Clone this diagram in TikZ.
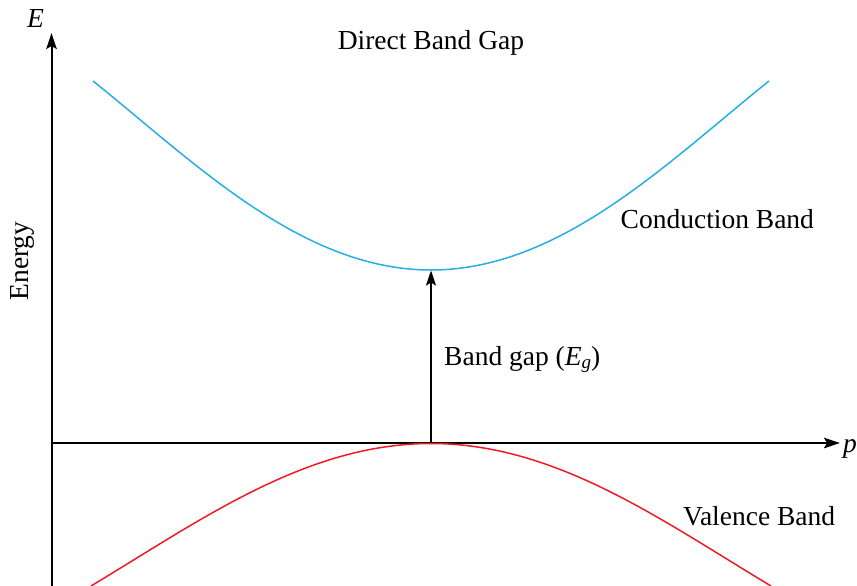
\documentclass[tikz,border=0pt]{standalone}
\usepackage{fontspec}
\setmainfont{Liberation Serif}
\usetikzlibrary{arrows.meta}
\definecolor{cband}{RGB}{39,174,225}
\definecolor{vband}{RGB}{237,28,36}
\begin{document}
\begin{tikzpicture}[x=1pt,y=-1pt,
  lbl/.style={font=\fontsize{27.5}{33}\selectfont, inner sep=0pt},
  axisline/.style={line width=2pt, -{Stealth[length=16pt,width=10.5pt,inset=3pt]}},
  gaparrow/.style={line width=2pt, -{Stealth[length=15pt,width=10pt,inset=3pt]}},
  bandline/.style={line width=1.5pt}]
\useasboundingbox (0,0) rectangle (857,586);
% axes
\coordinate (o) at (51.5,443);
\coordinate (ybot) at (51.5,587);
\coordinate (ytop) at (51.5,33);
\coordinate (xend) at (840,443);
\draw[axisline] (ybot) -- (ytop);
\draw[axisline] ([xshift=-1pt]o) -- (xend);
\node[lbl, anchor=base west] (Elab) at (27,28) {\itshape E};
\node[lbl, anchor=base west] (plab) at (843,452) {\itshape p};
\node[lbl, anchor=base, rotate=90] (energy) at (28.5,261) {Energy};
% bands
\draw[bandline, cband] (93,81) .. controls (193,161) and (301,270) .. (431,270)
  .. controls (561,270) and (669,161) .. (769,81);
\draw[bandline, vband] (91,586) .. controls (201,520) and (306,443.5) .. (431,443.5)
  .. controls (556,443.5) and (661,520) .. (771,586);
\coordinate (vtop) at (431,443);
\coordinate (cbot) at (431,270.5);
\draw[gaparrow] (vtop) -- (cbot);
% labels
\node[lbl, anchor=base] (title) at (431,49.5) {Direct Band Gap};
\node[lbl, anchor=base west] (cond) at (620.5,228) {Conduction Band};
\node[lbl, anchor=base west] (val) at (683,525) {Valence Band};
\node[lbl, anchor=base west] (gap) at (444,365) {Band gap (\textit{E}\raisebox{-0.28ex}{\fontsize{19}{20}\selectfont\itshape g})};
\end{tikzpicture}
\end{document}
